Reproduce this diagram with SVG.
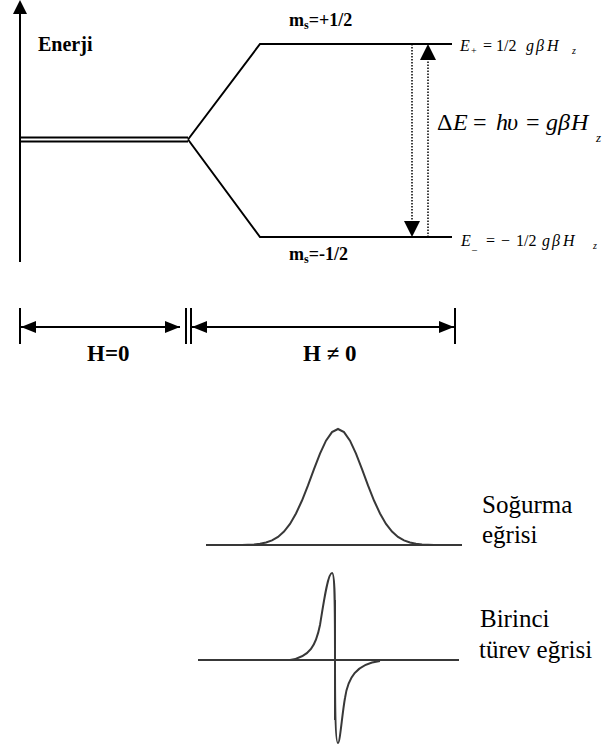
<svg xmlns="http://www.w3.org/2000/svg" width="605" height="751" viewBox="0 0 605 751" font-family="Liberation Serif, Times New Roman, serif">
<style>
.ln{stroke:#000;stroke-width:2;fill:none}
.dot{stroke:#000;stroke-width:1.5;fill:none;stroke-dasharray:1.5 1.5}
.b{font-weight:bold}
.i{font-style:italic}
.cv{stroke:#383838;stroke-width:2;fill:none}
.lbl{font-size:25px}
</style>
<defs>
<marker id="ah" viewBox="0 0 15 12" refX="15" refY="6" markerWidth="15" markerHeight="12" markerUnits="userSpaceOnUse" orient="auto-start-reverse">
<path d="M0,0 L15,6 L0,12 Z" fill="#000"/>
</marker>
<marker id="ah2" viewBox="0 0 16 16" refX="16" refY="8" markerWidth="16" markerHeight="16" markerUnits="userSpaceOnUse" orient="auto">
<path d="M0,0 L16,8 L0,16 Z" fill="#000"/>
</marker>
</defs>
<rect width="605" height="751" fill="#fff"/>

<g id="energy-axis">
<line class="ln" x1="20" y1="262" x2="20" y2="12"/>
<polygon points="20,0 13,14 27,14" fill="#000"/>
<text class="b" x="38" y="51" font-size="20">Enerji</text>
</g>

<g id="levels">
<line class="ln" x1="20" y1="137.5" x2="188" y2="137.5" stroke-width="1.5"/>
<line class="ln" x1="20" y1="141.5" x2="188" y2="141.5" stroke-width="1.5"/>
<polyline class="ln" points="188,139.5 260,44 452,44"/>
<polyline class="ln" points="188,139.5 260,237 452,237"/>
</g>

<g id="label-plus">
<text class="b" x="289" y="26" font-size="18">m<tspan font-size="12" dy="3">s</tspan><tspan dy="-3">=+1/2</tspan></text>
</g>
<g id="label-minus">
<text class="b" x="289" y="260" font-size="18">m<tspan font-size="12" dy="3">s</tspan><tspan dy="-3">=-1/2</tspan></text>
</g>

<g id="eq-plus">
<text y="51" font-size="16"><tspan x="460" class="i">E</tspan><tspan x="471" font-size="10" dy="3">+</tspan><tspan x="483" dy="-3">=</tspan><tspan x="496">1/2</tspan><tspan x="526" class="i">g</tspan><tspan x="536" class="i">β</tspan><tspan x="547" class="i">H</tspan><tspan x="572" font-size="10" class="i" dy="3">z</tspan></text>
</g>
<g id="eq-minus">
<text y="246" font-size="16"><tspan x="461" class="i">E</tspan><tspan x="472" font-size="10" dy="3">_</tspan><tspan x="486" dy="-3">=</tspan><tspan x="501">−</tspan><tspan x="516">1/2</tspan><tspan x="542" class="i">g</tspan><tspan x="552" class="i">β</tspan><tspan x="563" class="i">H</tspan><tspan x="593" font-size="10" class="i" dy="3">z</tspan></text>
</g>
<g id="eq-delta">
<text y="130" font-size="24"><tspan x="437">Δ</tspan><tspan x="453" class="i">E</tspan><tspan x="473">=</tspan><tspan x="496" class="i">h</tspan><tspan x="507" class="i">υ</tspan><tspan x="526">=</tspan><tspan x="546" class="i">g</tspan><tspan x="558" class="i">β</tspan><tspan x="571" class="i">H</tspan><tspan x="596" font-size="13" class="i" dy="12">z</tspan></text>
</g>

<g id="connectors">
<line class="dot" x1="412" y1="44" x2="412" y2="237" marker-end="url(#ah2)"/>
<line class="dot" x1="428" y1="237" x2="428" y2="44" marker-end="url(#ah2)"/>
<line class="ln" x1="21" y1="327" x2="180" y2="327" marker-start="url(#ah)" marker-end="url(#ah)"/>
<line class="ln" x1="192" y1="327" x2="454" y2="327" marker-start="url(#ah)" marker-end="url(#ah)"/>
</g>

<g id="ticks">
<line class="ln" x1="20" y1="308" x2="20" y2="344"/>
<line class="ln" x1="186" y1="308" x2="186" y2="344"/>
<line class="ln" x1="191" y1="308" x2="191" y2="344"/>
<line class="ln" x1="455" y1="308" x2="455" y2="344"/>
<text class="b" x="87" y="361" font-size="23">H=0</text>
<text class="b" x="303" y="361" font-size="23">H ≠ 0</text>
</g>

<g id="absorption">
<line class="cv" x1="206" y1="545" x2="462" y2="545"/>
<polyline class="cv" points="242,545 248,544.7 254,544.4 260,543.7 266,542.5 272,540.4 278,536.9 284,531.6 290,523.9 296,513.5 302,500.5 308,485.4 314,469.2 320,453.7 326,440.7 332,432.1 338,429 344,432.1 350,440.7 356,453.7 362,469.2 368,485.4 374,500.5 380,513.5 386,523.9 392,531.6 398,536.9 404,540.4 410,542.5 416,543.7 422,544.4 428,544.7 434,545"/>
<text class="lbl" x="482" y="513">Soğurma</text>
<text class="lbl" x="482" y="543">eğrisi</text>
</g>

<g id="derivative">
<line class="cv" x1="198" y1="660" x2="459" y2="660"/>
<line class="cv" x1="335" y1="600" x2="335" y2="720"/>
<path class="cv" d="M290,660 C310,657 316,645 320,625 C324,600 328,573 332,573 C335,573 335,600 335,660 C335,720 336,743 338,743 C340,743 342,715 345,698 C348,678 356,664 380,661"/>
<text class="lbl" x="480" y="627">Birinci</text>
<text class="lbl" x="479" y="658">türev eğrisi</text>
</g>
</svg>
